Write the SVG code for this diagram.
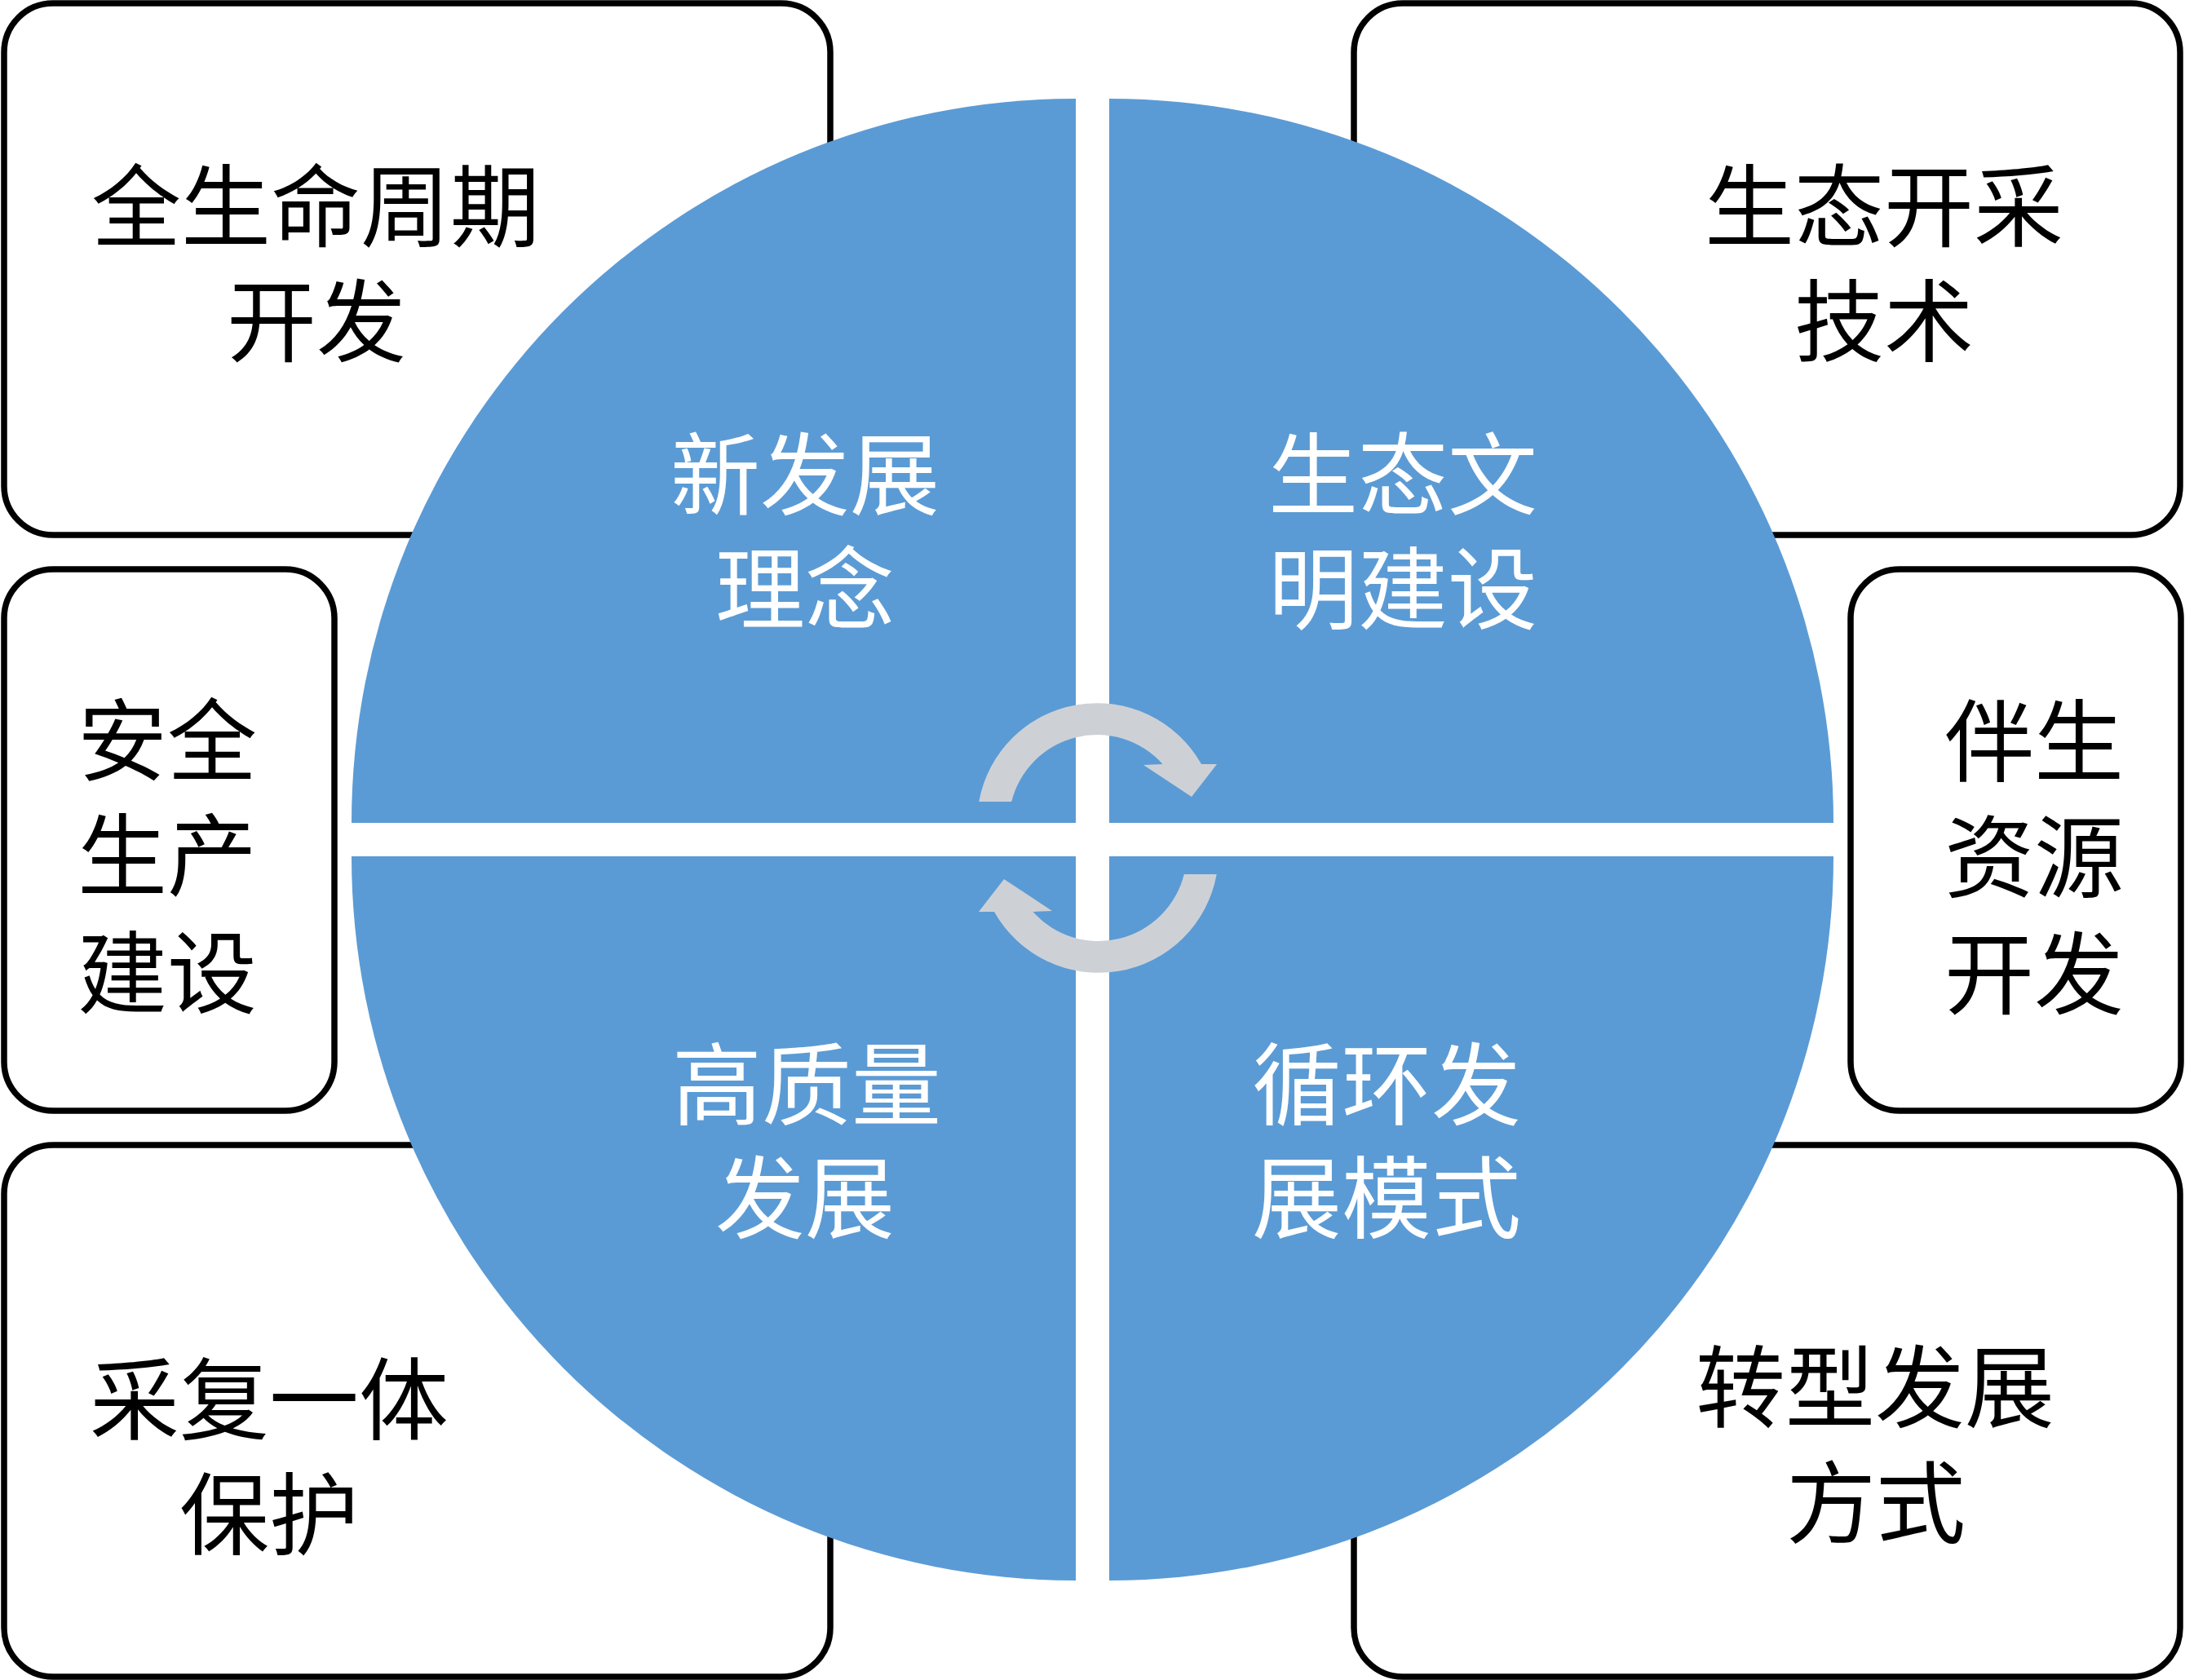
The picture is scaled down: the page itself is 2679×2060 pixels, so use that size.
<svg xmlns="http://www.w3.org/2000/svg" width="2679" height="2060" viewBox="0 0 2679 2060">
<style>
.box{fill:#FFFFFF;stroke:#000000;stroke-width:7.5}
.quad{fill:#5B9BD5}
.arrow{fill:#CDD1D6}
.t{font-family:"Noto Sans CJK SC","Noto Sans CJK TC",sans-serif;font-size:110px;text-anchor:middle}
.dark{fill:#000000}
.light{fill:#FFFFFF}
</style>
<rect width="2679" height="2060" fill="#FFFFFF"/>
<g id="box-lifecycle">
<rect class="box" x="5" y="4" width="1013" height="652" rx="60" ry="60"/>
<text class="t dark"><tspan x="387" y="294">全生命周期</tspan><tspan x="388" y="435">开发</tspan></text>
</g>
<g id="box-eco-mining">
<rect class="box" x="1660" y="4" width="1013" height="652" rx="60" ry="60"/>
<text class="t dark"><tspan x="2310" y="294">生态开采</tspan><tspan x="2310" y="435">技术</tspan></text>
</g>
<g id="box-safety">
<rect class="box" x="5" y="698" width="405" height="664" rx="60" ry="60"/>
<text class="t dark"><tspan x="205" y="949">安全</tspan><tspan x="205" y="1090">生产</tspan><tspan x="205" y="1234">建设</tspan></text>
</g>
<g id="box-associated">
<rect class="box" x="2269" y="698" width="405" height="664" rx="60" ry="60"/>
<text class="t dark"><tspan x="2494" y="950">伴生</tspan><tspan x="2494" y="1092">资源</tspan><tspan x="2494" y="1235">开发</tspan></text>
</g>
<g id="box-restoration">
<rect class="box" x="5" y="1404" width="1013" height="652" rx="60" ry="60"/>
<text class="t dark"><tspan x="330" y="1757">采复一体</tspan><tspan x="330" y="1898">保护</tspan></text>
</g>
<g id="box-transform">
<rect class="box" x="1660" y="1404" width="1013" height="652" rx="60" ry="60"/>
<text class="t dark"><tspan x="2299" y="1742">转型发展</tspan><tspan x="2300" y="1884">方式</tspan></text>
</g>
<g id="quad-new-concept">
<path class="quad" d="M1319 1009 L431 1009 A888 888 0 0 1 1319 121 Z"/>
<text class="t light"><tspan x="987" y="623">新发展</tspan><tspan x="987" y="763">理念</tspan></text>
</g>
<g id="quad-eco-civilization">
<path class="quad" d="M1360 1009 L1360 121 A888 888 0 0 1 2248 1009 Z"/>
<text class="t light"><tspan x="1720" y="623">生态文</tspan><tspan x="1720" y="763">明建设</tspan></text>
</g>
<g id="quad-high-quality">
<path class="quad" d="M1319 1050 L1319 1938 A888 888 0 0 1 431 1050 Z"/>
<text class="t light"><tspan x="989" y="1371">高质量</tspan><tspan x="987" y="1510">发展</tspan></text>
</g>
<g id="quad-circular">
<path class="quad" d="M1360 1050 L2248 1050 A888 888 0 0 1 1360 1938 Z"/>
<text class="t light"><tspan x="1700" y="1371">循环发</tspan><tspan x="1700" y="1510">展模式</tspan></text>
</g>
<g id="connectors">
<path class="arrow" d="M1200.3 983 A147 147 0 0 1 1473 937 L1492 937 L1461 977 L1402 938 L1425.5 937 A108 108 0 0 0 1240.2 983 Z"/>
<path class="arrow" transform="rotate(180 1346 1027.5)" d="M1200.3 983 A147 147 0 0 1 1473 937 L1492 937 L1461 977 L1402 938 L1425.5 937 A108 108 0 0 0 1240.2 983 Z"/>
</g>
</svg>
